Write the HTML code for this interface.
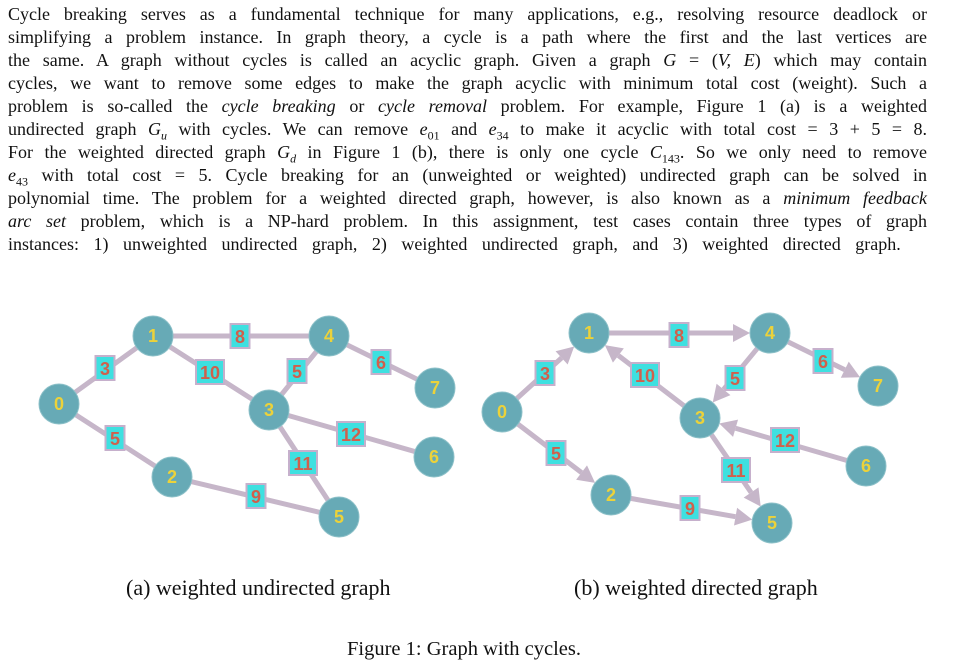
<!DOCTYPE html>
<html><head><meta charset="utf-8"><style>
body{margin:0;width:960px;height:665px;background:#fff;position:relative;overflow:hidden;font-family:"Liberation Serif",serif;}
.l{position:absolute;left:8px;width:919px;font-size:18px;text-align:justify;text-align-last:justify;white-space:nowrap;line-height:20px;color:#111;}
.l.last{text-align-last:left;}
.cap{position:absolute;font-size:22px;color:#111;white-space:nowrap;}
svg{position:absolute;left:0;top:0;}
</style></head><body>
<div class="l" style="top:4px">Cycle breaking serves as a fundamental technique for many applications, e.g., resolving resource deadlock or</div>
<div class="l" style="top:27px">simplifying a problem instance. In graph theory, a cycle is a path where the first and the last vertices are</div>
<div class="l" style="top:50px">the same. A graph without cycles is called an acyclic graph. Given a graph <i>G</i> = (<i>V, E</i>) which may contain</div>
<div class="l" style="top:73px">cycles, we want to remove some edges to make the graph acyclic with minimum total cost (weight). Such a</div>
<div class="l" style="top:96px">problem is so-called the <i>cycle breaking</i> or <i>cycle removal</i> problem. For example, Figure 1 (a) is a weighted</div>
<div class="l" style="top:119px">undirected graph <i>G<sub style="font-size:12px">u</sub></i> with cycles. We can remove <i>e</i><sub style="font-size:12px">01</sub> and <i>e</i><sub style="font-size:12px">34</sub> to make it acyclic with total cost = 3 + 5 = 8.</div>
<div class="l" style="top:142px">For the weighted directed graph <i>G<sub style="font-size:12px">d</sub></i> in Figure 1 (b), there is only one cycle <i>C</i><sub style="font-size:12px">143</sub>. So we only need to remove</div>
<div class="l" style="top:165px"><i>e</i><sub style="font-size:12px">43</sub> with total cost = 5. Cycle breaking for an (unweighted or weighted) undirected graph can be solved in</div>
<div class="l" style="top:188px">polynomial time. The problem for a weighted directed graph, however, is also known as a <i>minimum feedback</i></div>
<div class="l" style="top:211px"><i>arc set</i> problem, which is a NP-hard problem. In this assignment, test cases contain three types of graph</div>
<div class="l last" style="top:234px;word-spacing:10px">instances: 1) unweighted undirected graph, 2) weighted undirected graph, and 3) weighted directed graph.</div>
<div class="cap" style="left:126px;top:575px">(a) weighted undirected graph</div>
<div class="cap" style="left:574px;top:575px">(b) weighted directed graph</div>
<div class="cap" style="left:347px;top:638px;font-size:20.5px">Figure 1: Graph with cycles.</div>
<svg id="s" width="960" height="665" xmlns="http://www.w3.org/2000/svg"></svg>
<script>
var s=document.getElementById('s'),h='';
function g(N,E,dir){
 E.forEach(function(e){var a=N[e[0]],b=N[e[1]];
  var dx=b[0]-a[0],dy=b[1]-a[1],d=Math.sqrt(dx*dx+dy*dy),ux=dx/d,uy=dy/d;
  var ex=b[0],ey=b[1];
  if(dir){ex=b[0]-ux*20;ey=b[1]-uy*20;
   var bx=ex-ux*17,by=ey-uy*17,px=-uy*9,py=ux*9;
   h+='<line x1="'+a[0]+'" y1="'+a[1]+'" x2="'+bx+'" y2="'+by+'" stroke="#c6b6c9" stroke-width="5"/>';
   h+='<polygon points="'+ex+','+ey+' '+(bx+px)+','+(by+py)+' '+(bx-px)+','+(by-py)+'" fill="#c6b6c9"/>';
  }else h+='<line x1="'+a[0]+'" y1="'+a[1]+'" x2="'+ex+'" y2="'+ey+'" stroke="#c6b6c9" stroke-width="5"/>';
 });
 E.forEach(function(e){var t=String(e[2]),w=t.length>1?28:19,x=e[3],y=e[4];
  h+='<rect x="'+(x-w/2)+'" y="'+(y-12)+'" width="'+w+'" height="24" fill="#3ee0e0" stroke="#c6b0cc" stroke-width="2"/>';
  h+='<text x="'+x+'" y="'+(y+7)+'" text-anchor="middle" font-family="Liberation Sans,sans-serif" font-weight="bold" font-size="18" fill="#d0604c">'+t+'</text>';});
 for(var k in N){var n=N[k];
  h+='<circle cx="'+n[0]+'" cy="'+n[1]+'" r="20" fill="#67aab6" stroke="#8cc0c8" stroke-width="1"/>';
  h+='<text x="'+n[0]+'" y="'+(n[1]+6)+'" text-anchor="middle" font-family="Liberation Sans,sans-serif" font-weight="bold" font-size="18" fill="#ecd23a">'+k+'</text>';}
}
g({0:[59,404],1:[153,336],2:[172,477],3:[269,410],4:[329,336],5:[339,517],6:[434,457],7:[435,388]},
 [[0,1,3,105,368],[1,4,8,240,336],[1,3,10,210,372],[4,3,5,297,371],[4,7,6,381,362],[0,2,5,115,438],[3,6,12,351,434],[3,5,11,303,463],[2,5,9,256,496]],false);
g({0:[502,412],1:[589,333],2:[611,495],3:[700,418],4:[770,333],5:[772,523],6:[866,466],7:[878,386]},
 [[0,1,3,545,373],[1,4,8,679,335],[3,1,10,645,375],[4,3,5,735,378],[4,7,6,823,361],[0,2,5,556,453],[6,3,12,785,440],[3,5,11,736,470],[2,5,9,690,508]],true);
s.innerHTML=h;
</script>
</body></html>
